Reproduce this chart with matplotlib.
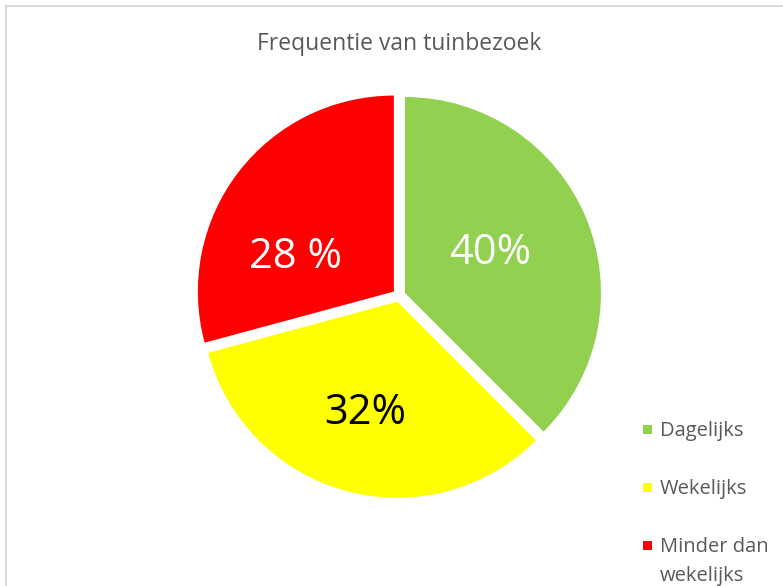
import matplotlib.pyplot as plt
from matplotlib.patches import Rectangle
import numpy as np

# data
categories = ["Dagelijks", "Wekelijks", "Minder dan\nwekelijks"]
shares = [37.5, 33.3, 29.2]          # slice sizes as drawn
label_texts = ["40%", "32%", "28 %"]  # labels as written on the chart
colors = ["#92D050", "#FFFF00", "#FF0000"]
label_colors = ["white", "black", "white"]
title = "Frequentie van tuinbezoek"

# layout (pixels)
W, H = 783, 586
cx, cy, R = 399, 295.5, 196
label_r = [0.48, 0.59, 0.53]
label_shift = [3, -1, 18]

plt.rcParams['font.family'] = ['Open Sans', 'DejaVu Sans']

fig = plt.figure(figsize=(W / 100, H / 100), dpi=100)
ax = fig.add_axes([0, 0, 1, 1])

wedges, _ = ax.pie(shares, colors=colors, startangle=90, counterclock=False,
                   explode=[0.033] * len(shares), radius=1,
                   wedgeprops=dict(linewidth=0))

for w, txt, col, r, sh in zip(wedges, label_texts, label_colors, label_r, label_shift):
    ang = np.deg2rad((w.theta1 + w.theta2) / 2 + sh)
    x0, y0 = w.center
    ax.text(x0 + r * np.cos(ang), y0 + r * np.sin(ang), txt, color=col,
            fontsize=30, ha='center', va='center')

ax.set_xlim(-cx / R, (W - cx) / R)
ax.set_ylim(-(H - cy) / R, cy / R)
ax.set_aspect('auto')
ax.axis('off')

fig.text(cx / W, 1 - 50 / H, title, ha='center', va='baseline',
         fontsize=16.5, color='#595959')

# legend drawn by hand
for i, (lab, col) in enumerate(zip(categories, colors)):
    base = 436 + 58 * i
    fig.patches.append(Rectangle((642.5 / W, 1 - (base - 2) / H), 9 / W, 9 / H,
                                 transform=fig.transFigure, facecolor=col,
                                 edgecolor='none'))
    for j, line in enumerate(lab.split("\n")):
        fig.text(660 / W, 1 - (base + 29 * j) / H, line, ha='left',
                 va='baseline', fontsize=14.5, color='#595959')

# chart frame
fig.patches.append(Rectangle((6 / W, -0.05), 1.1, 1 - 6 / H + 0.05,
                             transform=fig.transFigure, facecolor='none',
                             edgecolor='#D9D9D9', linewidth=1.5))

fig.savefig("out.png", dpi=100)
